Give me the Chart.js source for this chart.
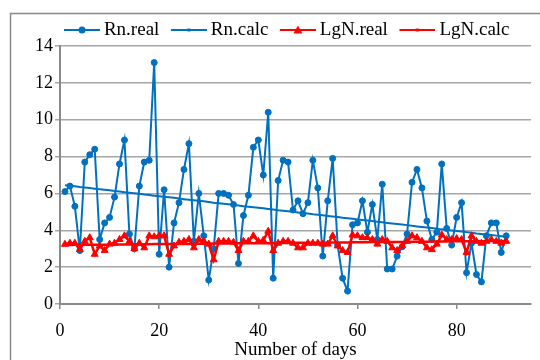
<!DOCTYPE html>
<html>
<head>
<meta charset="utf-8">
<script src="https://cdn.jsdelivr.net/npm/chart.js"></script>
<style>
  body { margin: 0; background: #fff; }
  #chart { display: block; }
</style>
</head>
<body>
<canvas id="chart" width="540" height="360"></canvas>
<script>
// days 1..90
const days = [1,2,3,4,5,6,7,8,9,10,11,12,13,14,15,16,17,18,19,20,
  21,22,23,24,25,26,27,28,29,30,31,32,33,34,35,36,37,38,39,40,
  41,42,43,44,45,46,47,48,49,50,51,52,53,54,55,56,57,58,59,60,
  61,62,63,64,65,66,67,68,69,70,71,72,73,74,75,76,77,78,79,80,
  81,82,83,84,85,86,87,88,89,90];

const rn_real = [6.1,6.4,5.3,2.9,7.7,8.1,8.4,3.5,4.4,4.7,
  5.8,7.6,8.9,3.8,3.0,6.4,7.7,7.8,13.1,2.7,
  6.2,2.0,4.4,5.5,7.3,8.7,3.4,6.0,3.7,1.3,
  3.0,6.0,6.0,5.9,5.4,2.2,4.8,5.9,8.5,8.9,
  7.0,10.4,1.4,6.7,7.8,7.7,5.1,5.6,4.9,5.5,
  7.8,6.3,2.6,5.6,7.9,3.2,1.4,0.7,4.3,4.4,
  5.6,3.9,5.4,3.5,6.5,1.9,1.9,2.6,3.1,3.8,
  6.6,7.3,6.3,4.5,3.5,3.9,7.6,4.1,3.2,4.7,
  5.5,1.7,3.3,1.6,1.2,3.7,4.4,4.4,2.8,3.7];

const rn_calc = [6.45,6.42,6.39,6.35,6.32,6.29,6.26,6.23,6.20,6.17,
  6.13,6.10,6.07,6.04,6.01,5.98,5.94,5.91,5.88,5.85,
  5.82,5.79,5.76,5.72,5.69,5.66,5.63,5.60,5.57,5.54,
  5.50,5.47,5.44,5.41,5.38,5.35,5.31,5.28,5.25,5.22,
  5.19,5.16,5.13,5.09,5.06,5.03,5.00,4.97,4.94,4.91,
  4.87,4.84,4.81,4.78,4.75,4.72,4.68,4.65,4.62,4.59,
  4.56,4.53,4.50,4.46,4.43,4.40,4.37,4.34,4.31,4.28,
  4.24,4.21,4.18,4.15,4.12,4.09,4.05,4.02,3.99,3.96,
  3.93,3.90,3.87,3.83,3.80,3.77,3.74,3.71,3.68,3.65];

const lgn_real = [3.24,3.3,3.3,2.95,3.4,3.6,2.7,3.15,2.9,3.25,
  3.3,3.5,3.7,3.4,3.0,3.3,3.05,3.7,3.65,3.7,
  3.7,2.7,3.15,3.35,3.4,3.5,3.05,3.5,3.4,3.25,
  2.4,3.4,3.4,3.4,3.35,2.9,3.4,3.4,3.7,3.4,
  3.45,3.95,2.9,3.3,3.4,3.4,3.3,3.05,3.05,3.3,
  3.3,3.3,3.25,3.25,3.7,3.15,2.9,2.8,3.75,3.7,
  3.6,3.6,3.5,3.25,3.5,3.4,3.05,2.9,3.15,3.4,
  3.7,3.6,3.4,3.05,2.95,3.25,3.75,3.5,3.5,3.55,
  3.5,2.8,3.7,3.4,3.3,3.4,3.5,3.4,3.3,3.4];

const lgn_calc = [3.20,3.20,3.21,3.21,3.21,3.21,3.22,3.22,3.22,3.22,
  3.23,3.23,3.23,3.23,3.24,3.24,3.24,3.24,3.25,3.25,
  3.25,3.25,3.26,3.26,3.26,3.26,3.27,3.27,3.27,3.27,
  3.28,3.28,3.28,3.28,3.29,3.29,3.29,3.29,3.30,3.30,
  3.30,3.30,3.31,3.31,3.31,3.31,3.32,3.32,3.32,3.32,
  3.33,3.33,3.33,3.33,3.34,3.34,3.34,3.34,3.35,3.35,
  3.35,3.35,3.36,3.36,3.36,3.36,3.37,3.37,3.37,3.37,
  3.38,3.38,3.38,3.38,3.39,3.39,3.39,3.39,3.40,3.40,
  3.40,3.40,3.41,3.41,3.41,3.41,3.42,3.42,3.42,3.42];

const series_names = ["Rn.real", "Rn.calc", "LgN.real", "LgN.calc"];

const blue = "#0070C0";
const red = "#FF0000";
const axis_gray = "#8a8a8a";
const grid_gray = "#a6a6a6";
const serif = "'Liberation Serif', 'Times New Roman', serif";

function points(values){
    return days.map((d, i) => ({x: d, y: values[i]}));
}

// little line + marker picture used as the legend symbol
function legendIcon(color, marker){
    const c = document.createElement("canvas");
    c.width = 41;
    c.height = 12;
    const g = c.getContext("2d");
    g.strokeStyle = color;
    g.fillStyle = color;
    g.lineWidth = 2;
    g.beginPath();
    g.moveTo(5, 6);
    g.lineTo(41, 6);
    g.stroke();
    if (marker == "circle") {
        g.beginPath();
        g.arc(23, 6, 3.5, 0, Math.PI * 2);
        g.fill();
    } else if (marker == "triangle") {
        g.beginPath();
        g.moveTo(23, 1.5);
        g.lineTo(27.5, 9.5);
        g.lineTo(18.5, 9.5);
        g.closePath();
        g.fill();
    } else {
        g.fillRect(21.5, 4.5, 3, 3);
    }
    return c;
}

const icons = [
    legendIcon(blue, "circle"),
    legendIcon(blue, "small"),
    legendIcon(red, "triangle"),
    legendIcon(red, "small")
];

// outer chart frame (continues past the right/bottom edge of the picture)
const frame = {
    id: "frame",
    beforeDraw(chart){
        const ctx = chart.ctx;
        ctx.save();
        ctx.strokeStyle = axis_gray;
        ctx.lineWidth = 1.5;
        ctx.beginPath();
        ctx.moveTo(10.5, 362);
        ctx.lineTo(10.5, 13.5);
        ctx.lineTo(542, 13.5);
        ctx.stroke();
        ctx.restore();
    }
};

// legend a bit tighter than chart.js makes it, and centred like the original
const legend_fix = {
    id: "legend_fix",
    beforeLayout(chart){
        const lg = chart.legend;
        if (lg && !lg._fixed) {
            const fit = lg.fit;
            lg.fit = function(){
                fit.call(this);
                this.height -= 3.5;
            };
            lg._fixed = true;
        }
    },
    afterLayout(chart){
        const lg = chart.legend;
        if (lg) {
            lg.left = 43;
            lg.right = 531;
        }
    }
};

const ctx = document.getElementById("chart").getContext("2d");

const graph = new Chart(ctx, {
    type: "line",
    data: {
        datasets: [
            {
                label: series_names[0],
                data: points(rn_real),
                borderColor: blue,
                backgroundColor: blue,
                borderWidth: 2,
                pointStyle: "circle",
                pointRadius: 3,
                pointBorderWidth: 1,
                order: 3
            },
            {
                label: series_names[1],
                data: points(rn_calc),
                borderColor: blue,
                backgroundColor: blue,
                borderWidth: 2,
                pointRadius: 0,
                order: 2
            },
            {
                label: series_names[2],
                data: points(lgn_real),
                borderColor: red,
                backgroundColor: red,
                borderWidth: 2.5,
                pointStyle: "triangle",
                pointRadius: 4,
                pointBorderWidth: 1,
                order: 1
            },
            {
                label: series_names[3],
                data: points(lgn_calc),
                borderColor: red,
                backgroundColor: red,
                borderWidth: 2.5,
                pointRadius: 0,
                order: 0
            }
        ]
    },
    options: {
        responsive: false,
        animation: false,
        layout: {
            padding: {left: 10, right: 9, top: 8.5, bottom: 0}
        },
        plugins: {
            tooltip: {enabled: false},
            legend: {
                position: "top",
                labels: {
                    color: "#000",
                    font: {family: serif, size: 19},
                    padding: 12,
                    usePointStyle: true,
                    pointStyleWidth: 30,
                    generateLabels(chart){
                        const items = Chart.defaults.plugins.legend.labels.generateLabels(chart);
                        items.forEach(item => {
                            item.pointStyle = icons[item.datasetIndex];
                            item.fontColor = "#000";
                        });
                        items.sort((a, b) => a.datasetIndex - b.datasetIndex);
                        return items;
                    }
                }
            }
        },
        scales: {
            x: {
                type: "linear",
                min: 0,
                max: 95,
                afterFit(scale){ scale.height = 56; },
                ticks: {
                    stepSize: 20,
                    includeBounds: false,
                    padding: 13,
                    color: "#000",
                    font: {family: serif, size: 18, lineHeight: 1}
                },
                grid: {
                    drawOnChartArea: false,
                    drawTicks: true,
                    tickLength: 5,
                    color: axis_gray,
                    lineWidth: 1.5
                },
                border: {color: axis_gray, width: 2},
                title: {
                    display: true,
                    text: "Number of days",
                    color: "#000",
                    font: {family: serif, size: 19, lineHeight: 1},
                    padding: 0
                }
            },
            y: {
                min: 0,
                max: 14,
                afterFit(scale){ scale.width = 50; },
                ticks: {
                    stepSize: 2,
                    padding: 2,
                    color: "#000",
                    font: {family: serif, size: 18, lineHeight: 1}
                },
                grid: {
                    color: grid_gray,
                    lineWidth: 1.5,
                    tickLength: 5
                },
                border: {color: axis_gray, width: 2}
            }
        }
    },
    plugins: [frame, legend_fix]
});
</script>
</body>
</html>
